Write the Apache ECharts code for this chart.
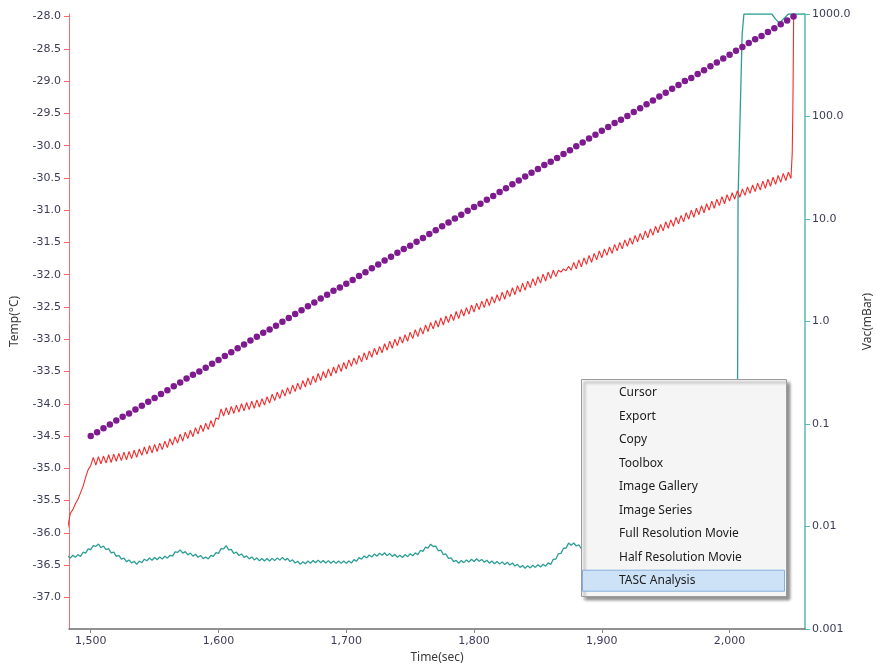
<!DOCTYPE html>
<html>
<head>
<meta charset="utf-8">
<script src="https://cdn.jsdelivr.net/npm/echarts@6/dist/echarts.min.js"></script>
<style>
  html, body { margin: 0; padding: 0; background: #ffffff; }
  #chart { width: 876px; height: 664px; }
</style>
</head>
<body>
<div id="chart"></div>
<script>
// ---- axis ticks ----
const timeTicks = [1500, 1600, 1700, 1800, 1900, 2000];
const tempTicks = [-37, -36.5, -36, -35.5, -35, -34.5, -34, -33.5, -33, -32.5, -32, -31.5, -31, -30.5, -30, -29.5, -29, -28.5, -28];
const vacTicks = [0.001, 0.01, 0.1, 1, 10, 100, 1000];

// ---- sample temperature (°C), one reading every 2 s from 1482 s ----
const sampleStart = 1482, sampleStep = 2;
const sampleTemp = [
  -35.92, -35.70, -35.64, -35.55, -35.48, -35.38, -35.28, -35.14, -35.02,
  -34.96, -34.83, -34.95, -34.82, -34.93, -34.81, -34.92, -34.79, -34.91, -34.78,
  -34.89, -34.77, -34.88, -34.75, -34.87, -34.74, -34.85, -34.72, -34.83, -34.70,
  -34.80, -34.67, -34.78, -34.65, -34.76, -34.63, -34.74, -34.61, -34.71, -34.58,
  -34.68, -34.54, -34.64, -34.51, -34.61, -34.47, -34.58, -34.44, -34.54, -34.41,
  -34.51, -34.37, -34.47, -34.33, -34.43, -34.30, -34.40, -34.26, -34.36, -34.22,
  -34.24, -34.08, -34.19, -34.06, -34.17, -34.04, -34.15, -34.02, -34.13, -34.00,
  -34.11, -33.98, -34.09, -33.96, -34.07, -33.94, -34.05, -33.92, -34.02, -33.89,
  -33.99, -33.85, -33.95, -33.82, -33.92, -33.78, -33.88, -33.75, -33.85, -33.71,
  -33.81, -33.68, -33.78, -33.64, -33.74, -33.60, -33.71, -33.57, -33.67, -33.53,
  -33.64, -33.50, -33.60, -33.46, -33.57, -33.43, -33.53, -33.39, -33.50, -33.36,
  -33.46, -33.32, -33.42, -33.29, -33.39, -33.25, -33.35, -33.21, -33.32, -33.18,
  -33.28, -33.14, -33.24, -33.11, -33.21, -33.07, -33.17, -33.03, -33.14, -33.00,
  -33.10, -32.96, -33.06, -32.93, -33.03, -32.89, -32.99, -32.85, -32.96, -32.82,
  -32.92, -32.78, -32.88, -32.74, -32.84, -32.71, -32.81, -32.67, -32.78, -32.64,
  -32.74, -32.61, -32.71, -32.57, -32.68, -32.54, -32.64, -32.51, -32.61, -32.47,
  -32.58, -32.44, -32.54, -32.41, -32.51, -32.37, -32.48, -32.34, -32.44, -32.31,
  -32.41, -32.27, -32.38, -32.24, -32.34, -32.20, -32.31, -32.17, -32.27, -32.13,
  -32.24, -32.10, -32.20, -32.06, -32.17, -32.03, -32.13, -31.99, -32.10, -31.96,
  -32.06, -31.93, -32.03, -31.93, -31.96, -31.91, -31.94, -31.87, -31.93, -31.81,
  -31.91, -31.77, -31.88, -31.74, -31.84, -31.70, -31.81, -31.67, -31.77, -31.63,
  -31.74, -31.60, -31.70, -31.57, -31.67, -31.53, -31.63, -31.50, -31.60, -31.46,
  -31.56, -31.43, -31.53, -31.39, -31.49, -31.36, -31.46, -31.32, -31.43, -31.29,
  -31.39, -31.25, -31.35, -31.22, -31.32, -31.18, -31.28, -31.15, -31.25, -31.11,
  -31.21, -31.08, -31.18, -31.04, -31.14, -31.00, -31.11, -30.97, -31.07, -30.93,
  -31.04, -30.90, -31.00, -30.86, -30.97, -30.83, -30.93, -30.79, -30.90, -30.76,
  -30.86, -30.73, -30.83, -30.70, -30.80, -30.67, -30.77, -30.64, -30.74, -30.61,
  -30.71, -30.58, -30.69, -30.55, -30.66, -30.52, -30.63, -30.49, -30.60, -30.46,
  -30.57, -30.43, -30.54, -30.41, -30.51
];
// final warm-up spike: [time s, °C]
const sampleTempTail = [[2049.0, -30.12], [2049.5, -29.40], [2049.8, -28.80], [2050.1, -28.00]];

// ---- stage set-point ramp (°C), one point every 5 s from 1500 s ----
const rampStart = 1500, rampStep = 5;
const setpointTemp = [
  -34.50, -34.44, -34.38, -34.32, -34.26, -34.20, -34.15, -34.09, -34.03, -33.97,
  -33.91, -33.85, -33.79, -33.73, -33.67, -33.61, -33.55, -33.50, -33.44, -33.38,
  -33.32, -33.26, -33.20, -33.14, -33.08, -33.02, -32.96, -32.90, -32.85, -32.79,
  -32.73, -32.67, -32.61, -32.55, -32.49, -32.43, -32.37, -32.31, -32.25, -32.20,
  -32.14, -32.08, -32.02, -31.96, -31.90, -31.84, -31.78, -31.72, -31.66, -31.60,
  -31.55, -31.49, -31.43, -31.37, -31.31, -31.25, -31.19, -31.13, -31.07, -31.01,
  -30.95, -30.90, -30.84, -30.78, -30.72, -30.66, -30.60, -30.54, -30.48, -30.42,
  -30.36, -30.30, -30.25, -30.19, -30.13, -30.07, -30.01, -29.95, -29.89, -29.83,
  -29.77, -29.71, -29.65, -29.60, -29.54, -29.48, -29.42, -29.36, -29.30, -29.24,
  -29.18, -29.12, -29.06, -29.00, -28.95, -28.89, -28.83, -28.77, -28.71, -28.65,
  -28.59, -28.53, -28.47, -28.41, -28.35, -28.30, -28.24, -28.18, -28.12, -28.06,
  -28.00
];

// ---- chamber vacuum, log10(mBar), one reading every 2 s from 1482 s ----
const vacStart = 1482, vacStep = 2;
const vacLog = [
  -2.288, -2.308, -2.280, -2.301, -2.274, -2.292, -2.251, -2.259, -2.218, -2.226,
  -2.186, -2.194, -2.171, -2.205, -2.191, -2.225, -2.216, -2.257, -2.250, -2.292,
  -2.282, -2.319, -2.308, -2.343, -2.326, -2.356, -2.339, -2.370, -2.337, -2.352,
  -2.319, -2.334, -2.307, -2.329, -2.302, -2.324, -2.297, -2.318, -2.290, -2.309,
  -2.281, -2.289, -2.247, -2.252, -2.228, -2.260, -2.245, -2.277, -2.259, -2.289,
  -2.270, -2.300, -2.282, -2.313, -2.297, -2.317, -2.281, -2.292, -2.256, -2.262,
  -2.216, -2.218, -2.186, -2.228, -2.223, -2.264, -2.249, -2.283, -2.268, -2.301,
  -2.287, -2.316, -2.297, -2.326, -2.306, -2.335, -2.313, -2.337, -2.313, -2.337,
  -2.311, -2.333, -2.306, -2.328, -2.301, -2.328, -2.311, -2.342, -2.325, -2.356,
  -2.339, -2.370, -2.343, -2.364, -2.337, -2.358, -2.332, -2.353, -2.328, -2.353,
  -2.331, -2.356, -2.333, -2.359, -2.336, -2.360, -2.336, -2.360, -2.336, -2.360,
  -2.336, -2.357, -2.323, -2.338, -2.304, -2.319, -2.287, -2.306, -2.278, -2.298,
  -2.269, -2.289, -2.261, -2.281, -2.256, -2.284, -2.264, -2.292, -2.272, -2.300,
  -2.280, -2.302, -2.274, -2.294, -2.266, -2.285, -2.257, -2.275, -2.234, -2.242,
  -2.201, -2.210, -2.173, -2.195, -2.192, -2.237, -2.231, -2.274, -2.268, -2.311,
  -2.305, -2.342, -2.330, -2.358, -2.331, -2.353, -2.326, -2.347, -2.320, -2.341,
  -2.314, -2.340, -2.321, -2.349, -2.329, -2.358, -2.337, -2.363, -2.341, -2.367,
  -2.345, -2.371, -2.349, -2.375, -2.356, -2.386, -2.369, -2.399, -2.381, -2.408,
  -2.382, -2.404, -2.378, -2.399, -2.373, -2.395, -2.369, -2.387, -2.355, -2.370,
  -2.320, -2.317, -2.265, -2.262, -2.212, -2.211, -2.162, -2.183, -2.161, -2.190,
  -2.179, -2.217, -2.206, -2.243, -2.228
];
// later readings and the vent to atmosphere: [time s, log10(mBar)]
const vacLogTail = [
  [1900, -2.28], [1915, -2.30], [1930, -2.32], [1950, -2.31], [1970, -2.33], [1990, -2.30],
  [2005.4, -2.30], [2006.3, -0.40], [2006.6, 1.20], [2009.8, 2.80], [2011.2, 3.00],
  [2033, 3.00], [2036, 2.95], [2039, 2.91], [2042, 2.95], [2046, 3.00], [2059, 3.00]
];

// ---- right-click menu entries ----
const menuItems = ['Cursor', 'Export', 'Copy', 'Toolbox', 'Image Gallery', 'Image Series',
  'Full Resolution Movie', 'Half Resolution Movie', 'TASC Analysis'];
const menuActive = 'TASC Analysis';

// ---- build series data ----
const sampleData = sampleTemp.map((v, i) => [sampleStart + i * sampleStep, v]).concat(sampleTempTail);
const rampData = setpointTemp.map((v, i) => [rampStart + i * rampStep, v]);
const vacData = vacLog.map((e, i) => [vacStart + i * vacStep, Math.pow(10, e)])
  .concat(vacLogTail.map(([t, e]) => [t, Math.pow(10, e)]));

const tickFont = 'DejaVu Sans';
const tickColor = '#3c3c58';
const nameStyle = { fontFamily: 'Noto Sans', fontSize: 12, color: '#3a3a3a' };

// ---- context menu graphic ----
const menuBox = { x: 581, y: 379, w: 205, h: 217, textX: 619, firstRow: 392.7, rowH: 23.5 };
const menuGraphic = [{
  type: 'rect', z: 100,
  shape: { x: menuBox.x + 0.5, y: menuBox.y + 0.5, width: menuBox.w, height: menuBox.h },
  style: { fill: '#f5f5f5', stroke: '#9c9c9c', lineWidth: 1,
           shadowBlur: 3, shadowOffsetX: 3, shadowOffsetY: 3, shadowColor: 'rgba(0,0,0,0.45)' }
}];
menuItems.forEach((label, i) => {
  const cy = menuBox.firstRow + i * menuBox.rowH;
  if (label === menuActive) {
    menuGraphic.push({
      type: 'rect', z: 101,
      shape: { x: menuBox.x + 1.5, y: cy - 10.5, width: menuBox.w - 3, height: 21 },
      style: { fill: '#cde2f7', stroke: '#86aedb', lineWidth: 1 }
    });
  }
  menuGraphic.push({
    type: 'text', z: 102, x: menuBox.textX, y: cy,
    style: { text: label, fontFamily: 'Noto Sans', fontSize: 12, fill: '#1c1c1c', verticalAlign: 'middle' }
  });
});

const fmtVac = v => {
  const e = Math.round(Math.log10(v));
  return e >= 0 ? Math.pow(10, e).toFixed(1) : Math.pow(10, e).toFixed(-e);
};

const chart = echarts.init(document.getElementById('chart'), null, { renderer: 'canvas' });
chart.setOption({
  animation: false,
  backgroundColor: '#ffffff',
  grid: { left: 69, right: 71, top: 14, bottom: 35, containLabel: false, outerBoundsMode: 'none' },
  xAxis: {
    type: 'value', min: 1483, max: 2059,
    name: 'Time(sec)', nameLocation: 'middle', nameGap: 19, nameTextStyle: nameStyle,
    axisLine: { show: true, onZero: false, lineStyle: { color: '#6e6e6e', width: 1.5 } },
    axisTick: { show: true, length: 4, customValues: timeTicks, lineStyle: { color: '#8a8a8a' } },
    axisLabel: { customValues: timeTicks, formatter: v => v.toLocaleString('en-US'),
                 fontFamily: tickFont, fontSize: 11, color: tickColor, margin: 7 },
    splitLine: { show: false }
  },
  yAxis: [{
    type: 'value', position: 'left', min: -37.49, max: -27.96,
    name: 'Temp(°C)', nameLocation: 'middle', nameGap: 48, nameRotate: 90, nameTextStyle: nameStyle,
    axisLine: { show: true, onZero: false, lineStyle: { color: '#ff6868', width: 1 } },
    axisTick: { show: true, length: 5, customValues: tempTicks, lineStyle: { color: '#ff6868' } },
    axisLabel: { customValues: tempTicks, formatter: v => v.toFixed(1),
                 fontFamily: tickFont, fontSize: 11, color: tickColor, margin: 8 },
    splitLine: { show: false }
  }, {
    type: 'log', logBase: 10, position: 'right', min: 0.001, max: 1000,
    name: 'Vac(mBar)', nameLocation: 'middle', nameGap: 57, nameRotate: 90, nameTextStyle: nameStyle,
    axisLine: { show: true, onZero: false, lineStyle: { color: '#58b8b3', width: 1.5 } },
    axisTick: { show: true, length: 5, customValues: vacTicks, lineStyle: { color: '#58b8b3' } },
    axisLabel: { customValues: vacTicks, formatter: fmtVac,
                 fontFamily: tickFont, fontSize: 11, color: tickColor, margin: 7 },
    splitLine: { show: false }
  }],
  series: [{
    name: 'Vacuum', type: 'line', yAxisIndex: 1, data: vacData,
    showSymbol: false, symbol: 'none', sampling: 'none',
    lineStyle: { color: '#2b9e95', width: 1.3 }, z: 2
  }, {
    name: 'Sample', type: 'line', yAxisIndex: 0, data: sampleData,
    showSymbol: false, symbol: 'none', sampling: 'none',
    lineStyle: { color: '#f22c2c', width: 1.1 }, z: 3
  }, {
    name: 'Set point', type: 'scatter', yAxisIndex: 0, data: rampData,
    symbol: 'circle', symbolSize: 6.5,
    itemStyle: { color: '#7e1b8f', opacity: 1 }, z: 4
  }],
  graphic: menuGraphic
});
</script>
</body>
</html>
